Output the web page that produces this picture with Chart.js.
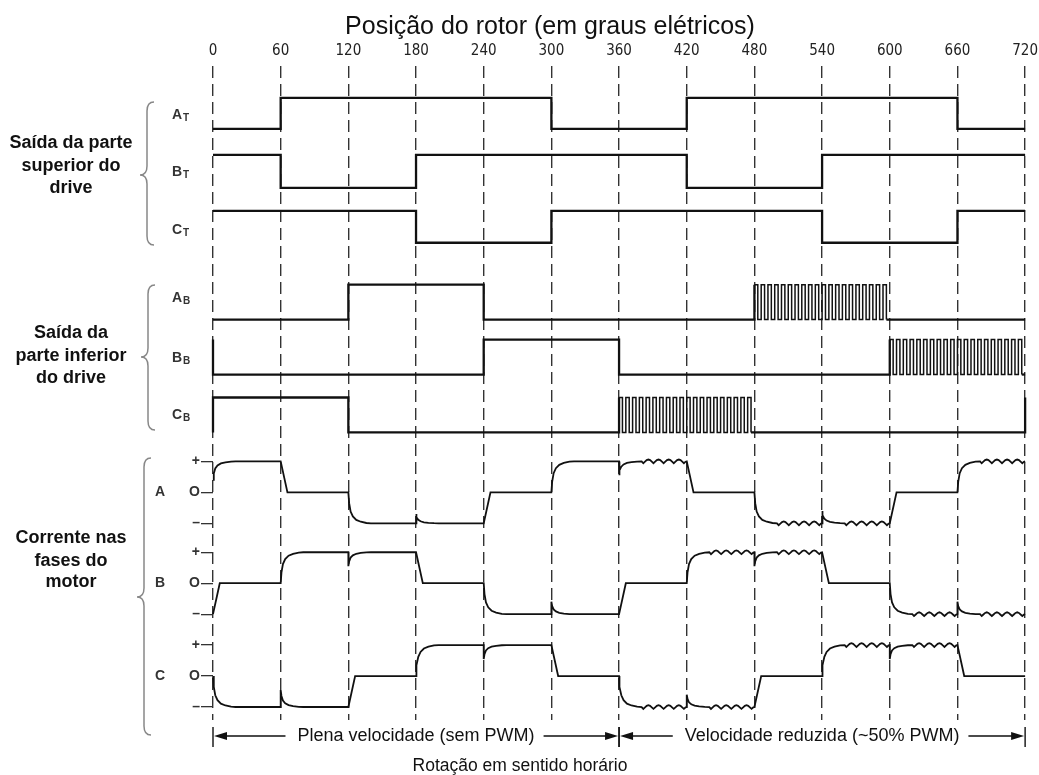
<!DOCTYPE html>
<html>
<head>
<meta charset="utf-8">
<script src="https://cdn.jsdelivr.net/npm/chart.js@4.4.1/dist/chart.umd.min.js"></script>
<style>
  html, body { margin: 0; padding: 0; background: #fff; }
  #wrap { width: 1039px; height: 775px; position: relative; }
</style>
</head>
<body>
<div id="wrap"><canvas id="timingChart"></canvas></div>
<script>
// Rotor position ticks (electrical degrees)
const angleTicks = [0, 60, 120, 180, 240, 300, 360, 420, 480, 540, 600, 660, 720];

// Drive outputs: [angle, level] where level 1 = high, 0 = low, 'p' = PWM until next edge
const aTop = [[0, 0], [60, 1], [300, 0], [420, 1], [660, 0], [720, 0]];
const bTop = [[0, 1], [60, 0], [180, 1], [420, 0], [540, 1], [720, 1]];
const cTop = [[0, 1], [180, 0], [300, 1], [540, 0], [660, 1], [720, 1]];
const aBottom = [[0, 0], [120, 1], [240, 0], [480, 'p'], [600, 0], [720, 0]];
const bBottom = [[0, 1], [0, 0], [240, 1], [360, 0], [600, 'p'], [720, 0]];
const cBottom = [[0, 0], [0, 1], [120, 0], [360, 'p'], [480, 0], [720, 0], [720, 1]];
const pwmPulsesPer60 = 10;

// Phase currents: [start angle, from level, to level, shape, ripple]
const phaseA = [
  [0, 0.4, 1, 'exp', 0], [60, 1, 0, 'ramp', 0], [120, 0, -1, 'exp', 0], [180, -0.7, -1, 'exp', 0],
  [240, -1, 0, 'ramp', 0], [300, 0, 1, 'exp', 0], [360, 0.55, 1, 'exp', 1], [420, 1, 0, 'ramp', 0],
  [480, 0, -1, 'exp', 1], [540, -0.6, -1, 'exp', 1], [600, -1, 0, 'ramp', 0], [660, 0, 1, 'exp', 1]
];
const phaseB = [
  [0, -1, 0, 'ramp', 0], [60, 0, 1, 'exp', 0], [120, 0.55, 1, 'exp', 0], [180, 1, 0, 'ramp', 0],
  [240, 0, -1, 'exp', 0], [300, -0.6, -1, 'exp', 0], [360, -1, 0, 'ramp', 0], [420, 0, 1, 'exp', 1],
  [480, 0.55, 1, 'exp', 1], [540, 1, 0, 'ramp', 0], [600, 0, -1, 'exp', 1], [660, -0.6, -1, 'exp', 1]
];
const phaseC = [
  [0, 0, -1, 'exp', 0], [60, -0.45, -1, 'exp', 0], [120, -1, 0, 'ramp', 0], [180, 0, 1, 'exp', 0],
  [240, 0.55, 1, 'exp', 0], [300, 1, 0, 'ramp', 0], [360, 0, -1, 'exp', 1], [420, -0.6, -1, 'exp', 1],
  [480, -1, 0, 'ramp', 0], [540, 0, 1, 'exp', 1], [600, 0.55, 1, 'exp', 1], [660, 1, 0, 'ramp', 0]
];

// Transient shapes: [degrees after edge, fraction of the change]
const expShape = [[0, 0], [0.7, 0.35], [2, 0.62], [4, 0.78], [7, 0.89], [11, 0.95], [16, 0.99], [20, 1]];
const rampShape = [[0, 0], [6, 1]];
const rippleShape = [-0.06, -0.01, 0.04, 0.06, 0.04, -0.01];   // one ripple hump, sixth steps
const ripplePeriod = 9;

// Layout of each trace on the (pixel-like) y axis
const digitalRows = [
  { edges: aTop, hi: 97, lo: 128, name: 'A', sub: 'T', labelY: 115 },
  { edges: bTop, hi: 154, lo: 187, name: 'B', sub: 'T', labelY: 172 },
  { edges: cTop, hi: 210, lo: 242, name: 'C', sub: 'T', labelY: 230 },
  { edges: aBottom, hi: 284, lo: 319, name: 'A', sub: 'B', labelY: 298 },
  { edges: bBottom, hi: 339, lo: 374, name: 'B', sub: 'B', labelY: 358 },
  { edges: cBottom, hi: 397, lo: 432, name: 'C', sub: 'B', labelY: 415 }
];
const currentRows = [
  { segs: phaseA, zero: 492, amp: 31, name: 'A' },
  { segs: phaseB, zero: 583, amp: 31, name: 'B' },
  { segs: phaseC, zero: 676, amp: 31, name: 'C' }
];

const FONT = '"Liberation Sans", Arial, sans-serif';
const NARROW = '"Liberation Sans Narrow", "Arial Narrow", "DejaVu Sans Condensed", sans-serif';

function digitalPoints(row) {
  const pts = [];
  row.edges.forEach(([x, lvl], i) => {
    if (lvl === 'p') {
      const end = row.edges[i + 1][0];
      const n = Math.round((end - x) / 60 * pwmPulsesPer60);
      const half = (end - x) / n / 2;
      for (let k = 0; k < n; k++) {
        pts.push({ x: x + 2 * k * half, y: row.hi, pwm: true });
        pts.push({ x: x + (2 * k + 1) * half, y: row.lo, pwm: true });
      }
    } else {
      pts.push({ x: x, y: lvl ? row.hi : row.lo });
    }
  });
  return pts;
}

function currentPoints(row) {
  const pts = [];
  const toY = v => row.zero - v * row.amp;
  row.segs.forEach(([x0, from, to, kind, ripple], i) => {
    const x1 = i + 1 < row.segs.length ? row.segs[i + 1][0] : 720;
    const shape = kind === 'exp' ? expShape : rampShape;
    shape.forEach(([dx, f]) => pts.push({ x: x0 + dx, y: toY(from + (to - from) * f) }));
    if (ripple) {
      const step = ripplePeriod / rippleShape.length;
      let j = 0;
      for (let x = x0 + shape[shape.length - 1][0] + step; x < x1 - step / 2; x += step) {
        pts.push({ x: x, y: toY(to + rippleShape[j % rippleShape.length]) });
        j++;
      }
    }
    pts.push({ x: x1, y: toY(to) });
  });
  return pts;
}

const datasets = [];
digitalRows.forEach(row => {
  datasets.push({
    data: digitalPoints(row),
    stepped: true,
    borderColor: '#111',
    borderWidth: 2.3,
    pointRadius: 0,
    clip: false,
    segment: {
      borderWidth: ctx => (ctx.p0.raw.pwm && ctx.p1.raw.pwm) ? 1.5 : 2.3
    }
  });
});
currentRows.forEach(row => {
  datasets.push({
    data: currentPoints(row),
    borderColor: '#111',
    borderWidth: 1.8,
    pointRadius: 0,
    tension: 0,
    clip: false
  });
});

// tick symbols for the current axis
const currentTickLabels = {};
currentRows.forEach(r => {
  currentTickLabels[r.zero - r.amp] = '+';
  currentTickLabels[r.zero] = 'O';
  currentTickLabels[r.zero + r.amp] = '\u2013';
});

function drawBrace(ctx, x, top, tip, bottom) {
  ctx.beginPath();
  ctx.moveTo(x + 7, top);
  ctx.quadraticCurveTo(x, top, x, top + 9);
  ctx.lineTo(x, tip - 9);
  ctx.quadraticCurveTo(x, tip, x - 7, tip);
  ctx.quadraticCurveTo(x, tip, x, tip + 9);
  ctx.lineTo(x, bottom - 9);
  ctx.quadraticCurveTo(x, bottom, x + 7, bottom);
  ctx.stroke();
}

function drawSpanArrow(ctx, xa, xb, y, text) {
  const cx = (xa + xb) / 2;
  ctx.font = '18px ' + FONT;
  const w = ctx.measureText(text).width;
  ctx.fillText(text, cx, y);
  ctx.beginPath();
  ctx.moveTo(xa, y - 9); ctx.lineTo(xa, y + 11);
  ctx.moveTo(xb, y - 9); ctx.lineTo(xb, y + 11);
  ctx.moveTo(xa + 12, y); ctx.lineTo(cx - w / 2 - 12, y);
  ctx.moveTo(cx + w / 2 + 9, y); ctx.lineTo(xb - 12, y);
  ctx.stroke();
  ctx.beginPath();
  ctx.moveTo(xa + 1, y); ctx.lineTo(xa + 14, y - 4); ctx.lineTo(xa + 14, y + 4); ctx.closePath();
  ctx.moveTo(xb - 1, y); ctx.lineTo(xb - 14, y - 4); ctx.lineTo(xb - 14, y + 4); ctx.closePath();
  ctx.fill();
}

const decorPlugin = {
  id: 'decor',
  beforeDraw(chart) {
    const ctx = chart.ctx;
    ctx.save();
    ctx.fillStyle = '#fff';
    ctx.fillRect(0, 0, chart.width, chart.height);
    ctx.restore();
  },
  afterDraw(chart) {
    const ctx = chart.ctx;
    const xs = chart.scales.x;
    ctx.save();
    ctx.fillStyle = '#111';
    ctx.strokeStyle = '#111';

    // title
    ctx.textAlign = 'center';
    ctx.textBaseline = 'alphabetic';
    ctx.font = '25px ' + FONT;
    ctx.fillText('Posição do rotor (em graus elétricos)', 550, 34);

    // group labels
    ctx.textBaseline = 'middle';
    ctx.font = 'bold 18px ' + FONT;
    [['Saída da parte', 143], ['superior do', 166], ['drive', 188],
     ['Saída da', 333], ['parte inferior', 356], ['do drive', 378],
     ['Corrente nas', 538], ['fases do', 561], ['motor', 582]].forEach(([t, y]) => ctx.fillText(t, 71, y));

    // braces
    ctx.strokeStyle = '#888';
    ctx.lineWidth = 1.5;
    drawBrace(ctx, 147, 102, 175, 245);
    drawBrace(ctx, 148, 285, 357, 430);
    drawBrace(ctx, 144, 458, 597, 735);

    // signal names with subscripts
    ctx.fillStyle = '#333';
    ctx.textAlign = 'left';
    digitalRows.forEach(r => {
      ctx.font = 'bold 14px ' + FONT;
      const w = ctx.measureText(r.name).width;
      ctx.fillText(r.name, 172, r.labelY);
      ctx.font = 'bold 10px ' + FONT;
      ctx.fillText(r.sub, 172 + w + 1, r.labelY + 3);
    });
    ctx.textAlign = 'center';
    ctx.font = 'bold 14px ' + FONT;
    currentRows.forEach(r => ctx.fillText(r.name, 160, r.zero));

    // speed spans
    ctx.fillStyle = '#111';
    ctx.strokeStyle = '#111';
    ctx.lineWidth = 1.4;
    const x0 = xs.getPixelForValue(angleTicks[0]);
    const x6 = xs.getPixelForValue(angleTicks[6]);
    const x12 = xs.getPixelForValue(angleTicks[12]);
    drawSpanArrow(ctx, x0, x6, 736, 'Plena velocidade (sem PWM)');
    drawSpanArrow(ctx, x6, x12, 736, 'Velocidade reduzida (~50% PWM)');

    ctx.font = '17.5px ' + FONT;
    ctx.fillText('Rotação em sentido horário', 520, 766);
    ctx.restore();
  }
};

new Chart(document.getElementById('timingChart').getContext('2d'), {
  type: 'line',
  data: { datasets: datasets },
  plugins: [decorPlugin],
  options: {
    responsive: true,
    maintainAspectRatio: false,
    devicePixelRatio: 1,
    animation: false,
    layout: { padding: { left: 183, right: 13, top: 41, bottom: 55 } },
    plugins: { legend: { display: false }, tooltip: { enabled: false }, title: { display: false } },
    scales: {
      x: {
        type: 'linear',
        position: 'top',
        min: 0,
        max: 720,
        afterBuildTicks: scale => { scale.ticks = angleTicks.map(v => ({ value: v })); },
        ticks: { color: '#222', font: { family: NARROW, size: 15 }, padding: 1, maxRotation: 0, autoSkip: false },
        grid: { color: '#333', lineWidth: 1.4, drawTicks: true, tickLength: 5, tickColor: 'rgba(0,0,0,0)' },
        border: { display: false, dash: [12, 6] }
      },
      y: {
        type: 'linear',
        reverse: true,
        min: 65,
        max: 720,
        afterFit: scale => { scale.width = 30; },
        afterBuildTicks: scale => {
          scale.ticks = Object.keys(currentTickLabels).map(v => ({ value: Number(v) }));
        },
        ticks: {
          color: '#333',
          padding: 1,
          font: { family: FONT, size: 14, weight: 'bold' },
          callback: v => currentTickLabels[v]
        },
        grid: { drawOnChartArea: false, drawTicks: true, tickLength: 12, color: '#333', lineWidth: 1.3 },
        border: { display: false }
      }
    }
  }
});
</script>
</body>
</html>
